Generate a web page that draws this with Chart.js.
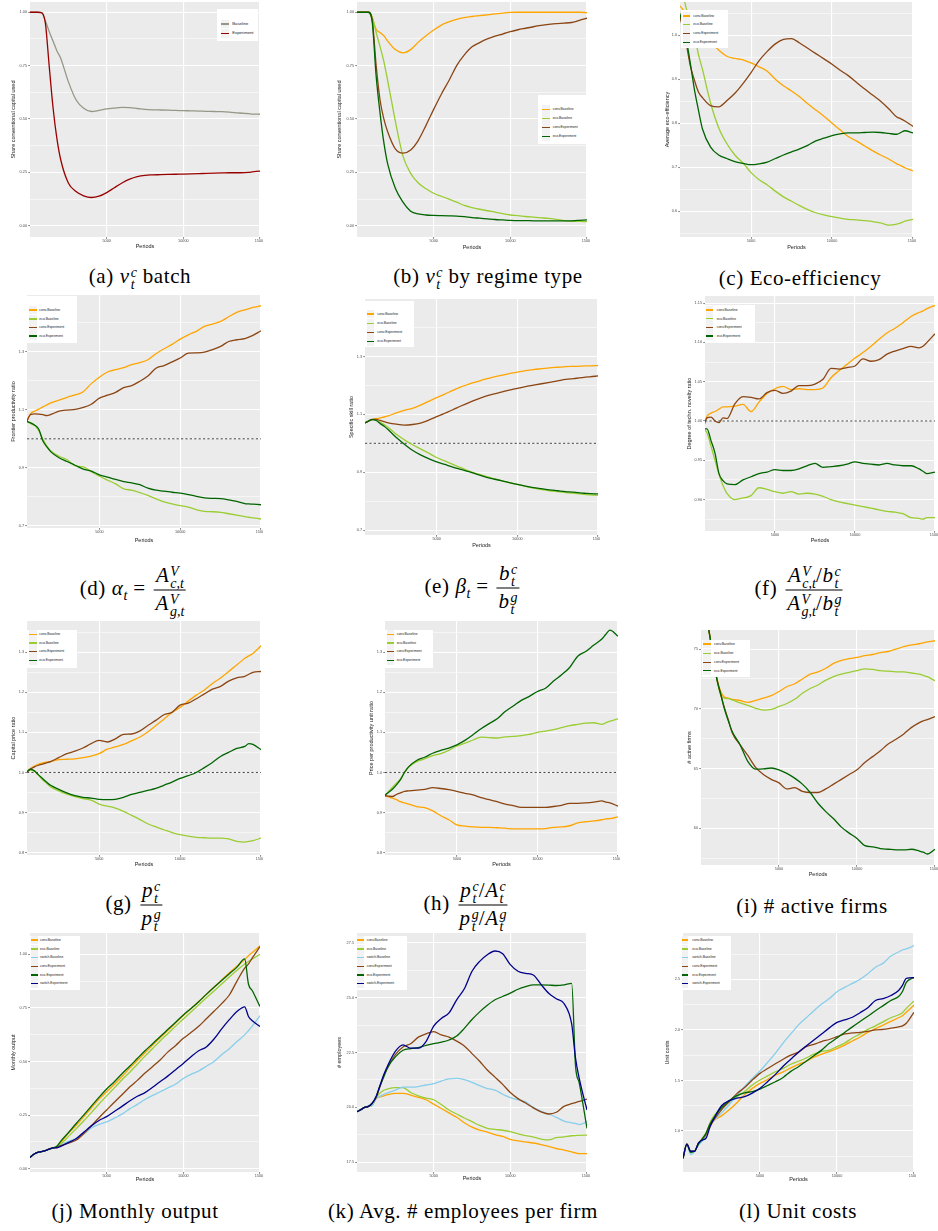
<!DOCTYPE html>
<html>
<head>
<meta charset="utf-8">
<script src="https://cdn.jsdelivr.net/npm/chart.js@4.4.0/dist/chart.umd.min.js"></script>
<style>
html,body{margin:0;padding:0;background:#fff;}
body{width:938px;height:1231px;position:relative;overflow:hidden;}
.wrap{position:absolute;overflow:hidden;}
.wrap canvas{position:absolute;left:0;top:0;}
.leg{position:absolute;background:#fff;}
.key{position:absolute;background:#f2f2f2;height:8.5px;}
.key i{position:absolute;left:0;right:0;top:3.6px;height:1.3px;}
.lt{position:absolute;font-family:"Liberation Sans",Arial,sans-serif;color:#1a1a1a;white-space:nowrap;line-height:8px;}
.cap{position:absolute;transform:translate(-50%,-50%);font-family:"Liberation Serif","DejaVu Serif",serif;font-size:21px;letter-spacing:.6px;white-space:nowrap;color:#000;line-height:1;}
.cap i{font-style:italic;}
.ss{display:inline-flex;flex-direction:column;font-size:14px;line-height:12px;vertical-align:6px;font-style:italic;margin-left:1px;letter-spacing:0;}
.sb{font-size:14px;vertical-align:-5px;font-style:italic;line-height:0;letter-spacing:0;}
.fr{display:inline-flex;flex-direction:column;align-items:center;vertical-align:middle;margin:0 2px;}
.fr>span{display:block;padding:0 2px;line-height:24px;white-space:nowrap;}
.fr>.n{border-bottom:1px solid #000;}
</style>
</head>
<body>

<div class="cap" style="left:140px;top:278px">(a) <i>ν</i><span class="ss"><span>c</span><span>t</span></span> batch</div>
<div class="cap" style="left:488px;top:278px">(b) <i>ν</i><span class="ss"><span>c</span><span>t</span></span> by regime type</div>
<div class="cap" style="left:800px;top:278px">(c) Eco-efficiency</div>

<div class="cap" style="left:134px;top:590px">(d) <i>α</i><span class="sb">t</span> = <span class="fr"><span class="n"><i>A</i><span class="ss"><span>V</span><span>c,t</span></span></span><span class="d"><i>A</i><span class="ss"><span>V</span><span>g,t</span></span></span></span></div>
<div class="cap" style="left:473px;top:588px">(e) <i>β</i><span class="sb">t</span> = <span class="fr"><span class="n"><i>b</i><span class="ss"><span>c</span><span>t</span></span></span><span class="d"><i>b</i><span class="ss"><span>g</span><span>t</span></span></span></span></div>
<div class="cap" style="left:800px;top:590px">(f) <span class="fr"><span class="n"><i>A</i><span class="ss"><span>V</span><span>c,t</span></span>/<i>b</i><span class="ss"><span>c</span><span>t</span></span></span><span class="d"><i>A</i><span class="ss"><span>V</span><span>g,t</span></span>/<i>b</i><span class="ss"><span>g</span><span>t</span></span></span></span></div>

<div class="cap" style="left:135px;top:905px">(g) <span class="fr"><span class="n"><i>p</i><span class="ss"><span>c</span><span>t</span></span></span><span class="d"><i>p</i><span class="ss"><span>g</span><span>t</span></span></span></span></div>
<div class="cap" style="left:467px;top:905px">(h) <span class="fr"><span class="n"><i>p</i><span class="ss"><span>c</span><span>t</span></span>/<i>A</i><span class="ss"><span>c</span><span>t</span></span></span><span class="d"><i>p</i><span class="ss"><span>g</span><span>t</span></span>/<i>A</i><span class="ss"><span>g</span><span>t</span></span></span></span></div>
<div class="cap" style="left:812px;top:906px">(i) # active firms</div>

<div class="cap" style="left:135px;top:1211px">(j) Monthly output</div>
<div class="cap" style="left:463px;top:1211px">(k) Avg. # employees per firm</div>
<div class="cap" style="left:798px;top:1211px">(l) Unit costs</div>

<script>
// Simulation periods at which every series is sampled
const PERIODS = [0,250,500,750,1000,1250,1500,1750,2000,
  2500,3000,3500,4000,4500,5000,5500,6000,6500,7000,
  7500,8000,8500,9000,9500,10000,10500,11000,11500,12000,
  12500,13000,13500,14000,14250,14500,15000];
const X_TICKS = [5000, 10000, 15000];

const LABELS4 = ['conv.Baseline','eco.Baseline','conv.Experiment','eco.Experiment'];
const LABELS6 = ['conv.Baseline','eco.Baseline','switch.Baseline','conv.Experiment','eco.Experiment','switch.Experiment'];
const ORANGE = '#FFA500', YGREEN = '#9ACD32', SKY = '#87CEEB', BROWN = '#8B4513', DGREEN = '#006400', NAVY = '#00008B';
const COLORS4 = [ORANGE, YGREEN, BROWN, DGREEN];
const COLORS6 = [ORANGE, YGREEN, SKY, BROWN, DGREEN, NAVY];

// (a) share of conventional capital, batch
const batchBaseline = [1,1,1,0.998,0.96,0.91,0.865,0.82,0.785,
  0.675,0.59,0.55,0.535,0.54,0.547,0.551,0.554,0.553,0.549,
  0.545,0.543,0.542,0.541,0.540,0.539,0.538,0.537,0.536,0.535,
  0.534,0.532,0.529,0.526,0.525,0.523,0.522];
const batchExperiment = [1,1,1,0.998,0.95,0.75,0.555,0.41,0.31,
  0.20,0.16,0.14,0.132,0.138,0.155,0.178,0.20,0.218,0.23,
  0.236,0.238,0.239,0.240,0.241,0.242,0.243,0.244,0.245,0.246,
  0.247,0.248,0.248,0.249,0.25,0.252,0.256];

// (b) share of conventional capital by regime type
const regConvBase = [1,1,1,1,0.97,0.92,0.905,0.89,0.865,
  0.825,0.81,0.825,0.86,0.89,0.917,0.94,0.955,0.967,0.975,
  0.98,0.984,0.988,0.992,0.996,0.999,1,1,1,1,
  1,1,1,1,1,1,0.998];
const regEcoBase = [1,1,1,1,0.975,0.905,0.84,0.77,0.68,
  0.49,0.326,0.245,0.20,0.173,0.152,0.138,0.124,0.11,0.095,
  0.085,0.077,0.07,0.064,0.057,0.05,0.047,0.043,0.04,0.037,
  0.034,0.03,0.024,0.021,0.02,0.02,0.019];
const regConvExp = [1,1,1,1,0.96,0.75,0.59,0.50,0.44,
  0.36,0.34,0.355,0.40,0.47,0.545,0.616,0.68,0.75,0.80,
  0.838,0.858,0.875,0.888,0.898,0.909,0.918,0.925,0.932,0.938,
  0.943,0.947,0.949,0.952,0.956,0.962,0.972];
const regEcoExp = [1,1,1,1,0.95,0.70,0.53,0.39,0.29,
  0.175,0.11,0.068,0.055,0.05,0.048,0.047,0.046,0.045,0.042,
  0.038,0.035,0.032,0.029,0.027,0.025,0.024,0.024,0.023,0.023,
  0.023,0.023,0.023,0.023,0.024,0.025,0.027];

// (c) average eco-efficiency
const effConvBase = [null,null,1.07,1.06,1.045,1.035,1.025,1.015,1.005,
  0.985,0.966,0.952,0.947,0.944,0.937,0.928,0.918,0.9,0.885,
  0.873,0.86,0.844,0.83,0.816,0.8,0.785,0.77,0.76,0.749,
  0.738,0.728,0.719,0.708,0.704,0.699,0.692];
const effEcoBase = [null,null,1.12,1.10,1.06,1.03,1.0,0.956,0.922,
  0.846,0.79,0.754,0.728,0.71,0.688,0.672,0.66,0.646,0.633,
  0.623,0.613,0.604,0.597,0.592,0.588,0.585,0.582,0.581,0.579,
  0.577,0.574,0.569,0.571,0.574,0.578,0.582];
const effConvExp = [null,null,1.06,1.02,0.98,0.93,0.898,0.871,0.858,
  0.84,0.837,0.851,0.868,0.89,0.915,0.942,0.963,0.98,0.99,
  0.992,0.982,0.97,0.958,0.946,0.934,0.92,0.908,0.893,0.878,
  0.864,0.85,0.833,0.814,0.81,0.805,0.793];
const effEcoExp = [null,null,1.06,1.03,0.99,0.936,0.877,0.83,0.787,
  0.746,0.728,0.72,0.713,0.709,0.706,0.708,0.712,0.72,0.728,
  0.735,0.742,0.75,0.76,0.766,0.772,0.776,0.778,0.778,0.779,
  0.78,0.779,0.777,0.775,0.779,0.783,0.778];

// (d) frontier productivity ratio
const prodConvBase = [null,null,1.06,1.087,1.095,1.102,1.11,1.117,1.124,
  1.133,1.143,1.151,1.162,1.19,1.212,1.23,1.238,1.245,1.255,
  1.262,1.272,1.293,1.31,1.325,1.343,1.358,1.37,1.387,1.395,
  1.404,1.42,1.435,1.444,1.448,1.452,1.458];
const prodEcoBase = [null,null,1.06,1.052,1.046,1.028,0.999,0.975,0.958,
  0.94,0.928,0.907,0.903,0.887,0.871,0.858,0.845,0.828,0.823,
  0.815,0.805,0.793,0.783,0.776,0.77,0.765,0.756,0.75,0.749,
  0.747,0.742,0.737,0.732,0.73,0.728,0.724];
const prodConvExp = [null,null,1.06,1.084,1.086,1.085,1.083,1.08,1.084,
  1.095,1.099,1.101,1.108,1.119,1.14,1.15,1.16,1.176,1.183,
  1.198,1.216,1.243,1.252,1.265,1.278,1.295,1.296,1.298,1.307,
  1.318,1.335,1.341,1.345,1.35,1.356,1.372];
const prodEcoExp = [null,null,1.06,1.055,1.047,1.033,0.993,0.972,0.955,
  0.935,0.922,0.909,0.896,0.889,0.876,0.868,0.86,0.853,0.848,
  0.842,0.83,0.823,0.82,0.816,0.813,0.808,0.802,0.797,0.795,
  0.794,0.79,0.785,0.777,0.776,0.775,0.773];

// (e) specific skill ratio
const skillConvBase = [null,null,1.069,1.076,1.082,1.085,1.088,1.091,1.095,
  1.105,1.114,1.121,1.132,1.145,1.158,1.17,1.183,1.195,1.205,
  1.213,1.222,1.229,1.235,1.241,1.246,1.251,1.255,1.258,1.261,
  1.263,1.265,1.266,1.267,1.268,1.268,1.269];
const skillEcoBase = [null,null,1.069,1.076,1.082,1.082,1.073,1.065,1.055,
  1.031,1.012,0.995,0.981,0.966,0.951,0.939,0.927,0.916,0.904,
  0.895,0.887,0.878,0.871,0.864,0.858,0.851,0.845,0.84,0.836,
  0.833,0.83,0.827,0.824,0.823,0.822,0.82];
const skillConvExp = [null,null,1.069,1.076,1.083,1.083,1.079,1.075,1.071,
  1.066,1.063,1.065,1.07,1.08,1.092,1.104,1.116,1.129,1.141,
  1.152,1.162,1.17,1.177,1.184,1.19,1.196,1.201,1.206,1.211,
  1.216,1.221,1.224,1.227,1.229,1.23,1.233];
const skillEcoExp = [null,null,1.069,1.076,1.082,1.079,1.068,1.059,1.047,
  1.02,0.997,0.976,0.96,0.947,0.936,0.927,0.918,0.91,0.902,
  0.893,0.884,0.877,0.871,0.864,0.858,0.852,0.847,0.843,0.839,
  0.836,0.833,0.831,0.828,0.827,0.826,0.825];

// (f) degree of technological novelty ratio
const novConvBase = [null,null,0.99,1.006,1.01,1.012,1.015,1.018,1.018,
  1.019,1.021,1.012,1.024,1.035,1.041,1.044,1.04,1.041,1.04,
  1.04,1.042,1.055,1.064,1.072,1.08,1.087,1.095,1.104,1.112,
  1.118,1.125,1.133,1.138,1.14,1.143,1.147];
const novEcoBase = [null,null,0.99,0.985,0.968,0.95,0.932,0.918,0.908,
  0.9,0.902,0.905,0.915,0.913,0.91,0.908,0.91,0.907,0.908,
  0.907,0.904,0.9,0.897,0.895,0.893,0.891,0.889,0.887,0.885,
  0.884,0.882,0.877,0.876,0.875,0.877,0.877];
const novConvExp = [null,null,0.99,1.004,1.005,1.0,0.998,1.004,1.003,
  1.022,1.031,1.03,1.028,1.036,1.039,1.035,1.038,1.045,1.045,
  1.047,1.053,1.067,1.066,1.068,1.07,1.079,1.076,1.078,1.085,
  1.089,1.092,1.095,1.093,1.095,1.1,1.111];
const novEcoExp = [null,null,0.99,0.99,0.975,0.959,0.933,0.924,0.92,
  0.919,0.925,0.929,0.933,0.935,0.938,0.937,0.937,0.939,0.943,
  0.946,0.941,0.942,0.943,0.945,0.948,0.946,0.945,0.944,0.946,
  0.944,0.943,0.943,0.939,0.936,0.933,0.935];

// (g) capital price ratio
const priceConvBase = [null,null,1.0,1.01,1.016,1.021,1.024,1.026,1.027,
  1.032,1.033,1.034,1.037,1.041,1.047,1.058,1.064,1.07,1.079,
  1.088,1.101,1.117,1.133,1.15,1.162,1.178,1.193,1.206,1.222,
  1.236,1.252,1.268,1.285,1.291,1.297,1.316];
const priceEcoBase = [null,null,1.0,1.006,1.003,0.993,0.982,0.973,0.964,
  0.954,0.946,0.94,0.935,0.931,0.921,0.916,0.911,0.903,0.893,
  0.883,0.872,0.864,0.857,0.85,0.845,0.841,0.838,0.837,0.836,
  0.836,0.834,0.828,0.826,0.828,0.83,0.836];
const priceConvExp = [null,null,1.0,1.008,1.014,1.018,1.021,1.024,1.027,
  1.037,1.047,1.053,1.061,1.072,1.08,1.076,1.084,1.095,1.096,
  1.103,1.117,1.13,1.144,1.15,1.168,1.173,1.184,1.196,1.208,
  1.215,1.228,1.236,1.24,1.245,1.25,1.252];
const priceEcoExp = [null,null,1.0,1.008,1.004,0.994,0.985,0.976,0.968,
  0.958,0.949,0.942,0.938,0.936,0.933,0.932,0.933,0.938,0.945,
  0.95,0.955,0.96,0.968,0.976,0.985,0.992,1.0,1.012,1.025,
  1.04,1.05,1.06,1.065,1.072,1.07,1.057];

// (h) price per productivity unit ratio
const pppConvBase = [null,null,0.942,0.939,0.936,0.932,0.927,0.924,0.921,
  0.915,0.912,0.904,0.892,0.882,0.869,0.866,0.864,0.863,0.863,
  0.862,0.861,0.859,0.859,0.859,0.859,0.86,0.863,0.864,0.867,
  0.874,0.877,0.879,0.882,0.884,0.885,0.889];
const pppEcoBase = [null,null,0.942,0.952,0.963,0.973,0.984,1.0,1.013,
  1.027,1.034,1.042,1.047,1.055,1.066,1.073,1.081,1.088,1.087,
  1.086,1.089,1.09,1.092,1.095,1.1,1.103,1.107,1.112,1.117,
  1.12,1.123,1.124,1.12,1.124,1.128,1.134];
const pppConvExp = [null,null,0.942,0.941,0.94,0.945,0.949,0.953,0.954,
  0.956,0.958,0.962,0.96,0.957,0.953,0.948,0.944,0.937,0.932,
  0.927,0.921,0.917,0.913,0.913,0.913,0.913,0.915,0.918,0.923,
  0.923,0.924,0.926,0.929,0.926,0.924,0.916];
const pppEcoExp = [null,null,0.942,0.95,0.958,0.969,0.982,1.0,1.014,
  1.03,1.038,1.048,1.055,1.061,1.069,1.08,1.094,1.109,1.122,
  1.134,1.152,1.166,1.18,1.19,1.202,1.21,1.228,1.244,1.262,
  1.29,1.302,1.318,1.333,1.345,1.355,1.34];

// (i) number of active firms
const firmsConvBase = [79.5,78.3,76.6,74.6,72.7,71.5,71.0,70.9,70.8,
  70.7,70.55,70.7,70.9,71.1,71.45,71.85,72.1,72.5,72.9,
  73.1,73.4,73.8,74.05,74.2,74.3,74.45,74.55,74.7,74.8,
  75.0,75.2,75.35,75.45,75.52,75.6,75.7];
const firmsEcoBase = [79.5,78.3,76.6,74.6,72.6,71.2,70.9,70.85,70.75,
  70.5,70.3,70.05,69.9,69.95,70.2,70.45,70.8,71.3,71.7,
  72.0,72.4,72.7,72.9,73.05,73.2,73.35,73.3,73.2,73.15,
  73.1,73.1,73.0,72.9,72.8,72.7,72.35];
const firmsConvExp = [79.5,78.3,76.6,74.6,72.6,71.3,70.1,69.1,68.0,
  67.0,66.1,65.1,64.5,64.1,63.8,63.3,63.4,63.1,63.0,
  63.0,63.3,63.7,64.1,64.5,64.9,65.5,66.0,66.5,67.05,
  67.45,67.9,68.45,68.85,69.0,69.1,69.35];
const firmsEcoExp = [79.5,78.3,76.6,74.6,72.6,71.3,70.0,69.0,68.1,
  67.0,65.6,64.95,64.97,65.05,64.9,64.6,64.2,63.7,63.0,
  62.1,61.4,60.8,60.1,59.6,59.15,58.55,58.45,58.3,58.25,
  58.2,58.2,58.25,58.1,58.0,57.85,58.25];

// (j) monthly output
const outConvBase = [0.053,0.068,0.077,0.08,0.085,0.092,0.097,0.104,0.122,
  0.165,0.202,0.242,0.283,0.325,0.359,0.394,0.43,0.469,0.505,
  0.541,0.577,0.612,0.645,0.68,0.714,0.747,0.779,0.813,0.846,
  0.88,0.914,0.945,0.975,0.993,1.008,1.04];
const outEcoBase = [0.053,0.068,0.077,0.08,0.085,0.092,0.097,0.103,0.115,
  0.15,0.186,0.223,0.262,0.302,0.34,0.377,0.415,0.45,0.487,
  0.525,0.561,0.597,0.631,0.665,0.698,0.731,0.764,0.797,0.829,
  0.861,0.894,0.925,0.955,0.967,0.978,1.0];
const outSwitchBase = [0.053,0.068,0.077,0.08,0.085,0.092,0.097,0.102,0.11,
  0.128,0.141,0.162,0.19,0.207,0.219,0.236,0.255,0.279,0.3,
  0.323,0.342,0.359,0.377,0.395,0.421,0.44,0.456,0.478,0.5,
  0.531,0.56,0.593,0.624,0.644,0.665,0.714];
const outConvExp = [0.053,0.068,0.077,0.08,0.085,0.092,0.097,0.1,0.108,
  0.12,0.133,0.163,0.2,0.238,0.274,0.31,0.345,0.381,0.412,
  0.446,0.477,0.508,0.545,0.575,0.608,0.635,0.664,0.699,0.734,
  0.77,0.81,0.875,0.935,0.955,0.983,1.036];
const outEcoExp = [0.053,0.068,0.077,0.08,0.085,0.092,0.097,0.105,0.128,
  0.168,0.21,0.25,0.292,0.333,0.372,0.406,0.443,0.478,0.514,
  0.55,0.583,0.617,0.65,0.683,0.717,0.747,0.779,0.813,0.846,
  0.878,0.909,0.94,0.978,0.86,0.83,0.756];
const outSwitchExp = [0.053,0.068,0.077,0.08,0.085,0.092,0.097,0.098,0.104,
  0.122,0.14,0.17,0.2,0.225,0.243,0.267,0.291,0.316,0.338,
  0.355,0.38,0.407,0.433,0.462,0.491,0.522,0.55,0.568,0.605,
  0.652,0.695,0.733,0.755,0.71,0.69,0.663];

// (k) average number of employees per firm
const empConvBase = [19.8,19.9,20.0,20.05,20.1,20.4,20.48,20.53,20.58,
  20.64,20.64,20.56,20.46,20.35,20.15,19.95,19.75,19.55,19.3,
  19.1,18.97,18.88,18.76,18.68,18.55,18.48,18.43,18.38,18.31,
  18.23,18.13,18.06,17.98,17.93,17.9,17.9];
const empEcoBase = [19.8,19.9,20.0,20.05,20.1,20.45,20.65,20.78,20.84,
  20.9,20.9,20.68,20.53,20.42,20.35,20.13,19.88,19.7,19.52,
  19.35,19.18,19.05,19.0,18.96,18.9,18.8,18.72,18.65,18.56,
  18.52,18.62,18.66,18.71,18.72,18.73,18.74];
const empSwitchBase = [19.8,19.9,20.0,20.05,20.1,20.4,20.5,20.6,20.66,
  20.79,20.92,20.92,20.95,21.02,21.08,21.2,21.3,21.32,21.26,
  21.14,20.99,20.86,20.79,20.6,20.45,20.35,20.25,20.0,19.83,
  19.7,19.55,19.38,19.3,19.27,19.22,19.35];
const empConvExp = [19.8,19.9,20.0,20.05,20.2,20.45,20.95,21.45,21.8,
  22.4,22.75,22.9,23.2,23.35,23.45,23.3,23.2,23.02,22.8,
  22.45,22.1,21.7,21.38,21.05,20.68,20.4,20.2,19.98,19.8,
  19.7,19.78,20.05,20.17,20.22,20.27,20.38];
const empEcoExp = [19.8,19.9,20.0,20.05,20.2,20.5,20.98,21.4,21.82,
  22.3,22.6,22.68,22.72,22.82,22.9,22.97,23.07,23.25,23.6,
  24.0,24.35,24.65,24.9,25.05,25.2,25.38,25.5,25.58,25.58,
  25.57,25.55,25.58,25.65,21.9,21.1,19.04];
const empSwitchExp = [19.8,19.9,20.0,20.05,20.2,20.5,21.0,21.5,21.9,
  22.55,22.85,22.7,22.7,23.0,23.7,24.05,24.3,24.9,25.4,
  26.2,26.65,26.95,27.12,27.0,26.5,26.2,26.1,26.03,25.6,
  25.2,24.95,24.73,23.8,22.25,21.3,19.88];

// (l) unit costs
const costConvBase = [0.73,0.87,0.79,0.8,0.875,0.92,0.96,1.04,1.1,
  1.15,1.21,1.28,1.36,1.422,1.471,1.51,1.553,1.585,1.625,
  1.66,1.69,1.73,1.76,1.785,1.815,1.85,1.89,1.93,1.975,
  2.012,2.048,2.085,2.12,2.14,2.174,2.246];
const costEcoBase = [0.73,0.87,0.79,0.8,0.875,0.93,0.98,1.08,1.15,
  1.23,1.29,1.34,1.39,1.455,1.504,1.545,1.586,1.62,1.66,
  1.69,1.722,1.76,1.787,1.801,1.835,1.87,1.92,1.96,2.005,
  2.04,2.08,2.12,2.15,2.17,2.213,2.286];
const costSwitchBase = [0.73,0.87,0.77,0.8,0.86,0.9,0.96,1.06,1.105,
  1.18,1.26,1.35,1.44,1.521,1.593,1.68,1.77,1.87,1.96,
  2.05,2.12,2.19,2.255,2.31,2.378,2.42,2.46,2.5,2.555,
  2.62,2.66,2.73,2.77,2.79,2.8,2.833];
const costConvExp = [0.73,0.87,0.8,0.8,0.88,0.92,0.97,1.06,1.11,
  1.21,1.29,1.37,1.43,1.504,1.57,1.618,1.665,1.71,1.75,
  1.78,1.835,1.856,1.885,1.905,1.933,1.96,1.97,1.975,1.985,
  2.0,2.005,2.017,2.03,2.04,2.065,2.174];
const costEcoExp = [0.73,0.87,0.79,0.8,0.87,0.92,0.98,1.07,1.13,
  1.23,1.3,1.35,1.378,1.389,1.415,1.45,1.487,1.53,1.59,
  1.636,1.69,1.745,1.8,1.867,1.92,1.975,2.03,2.083,2.135,
  2.19,2.24,2.29,2.33,2.38,2.47,2.517];
const costSwitchExp = [0.73,0.87,0.8,0.8,0.88,0.91,0.93,1.04,1.12,
  1.25,1.3,1.325,1.34,1.375,1.422,1.49,1.56,1.64,1.71,
  1.78,1.84,1.9,1.96,2.02,2.075,2.1,2.125,2.17,2.22,
  2.29,2.31,2.34,2.39,2.44,2.51,2.517];

function four(arrs) { return arrs.map((v, i) => ({ name: LABELS4[i], color: COLORS4[i], values: v })); }
function six(arrs) { return arrs.map((v, i) => ({ name: LABELS6[i], color: COLORS6[i], values: v })); }

const Y_QUARTERS = { major: [0, 0.25, 0.5, 0.75, 1], minor: [0.125, 0.375, 0.625, 0.875] };
const Y_PAIR = { major: [0.7, 0.9, 1.1, 1.3], minor: [0.8, 1.0, 1.2, 1.4] };
const Y_TENTHS = { major: [0.8, 0.9, 1.0, 1.1, 1.2, 1.3], minor: [0.85, 0.95, 1.05, 1.15, 1.25, 1.35] };
const LEG4_ROWS = (y0, step) => [0, 1, 2, 3].map(k => y0 + k * step);
const LEG6_ROWS = [940, 949, 957.3, 966.3, 975, 983.3];

const PANELS = [
  { plot: [30, 2, 260, 237], xMin: 0, yMin: -0.053, yMax: 1.048, yMajor: Y_QUARTERS.major, yMinor: Y_QUARTERS.minor, dec: 2,
    yTitle: 'Share conventional capital used', yTitleX: 14, xTitleY: 247, clipR: 263,
    series: [{ name: 'Baseline', color: '#979787', values: batchBaseline }, { name: 'Experiment', color: '#990000', values: batchExperiment }],
    legend: { box: [217, 9, 41, 32], ys: [24, 33.3], keyX: 221, keyW: 8, textX: 232.3, fs: 4.2 } },
  { plot: [357, 2, 587, 237], xMin: 0, yMin: -0.053, yMax: 1.048, yMajor: Y_QUARTERS.major, yMinor: Y_QUARTERS.minor, dec: 2,
    yTitle: 'Share conventional capital used', yTitleX: 340, xTitleY: 247.3, clipR: 590,
    series: four([regConvBase, regEcoBase, regConvExp, regEcoExp]),
    legend: { box: [538, 95, 50, 49], ys: LEG4_ROWS(109.3, 9), keyX: 541.7, keyW: 8.3, textX: 552.7, fs: 3.4 } },
  { plot: [680, 2, 913, 237], xMin: 612, yMin: 0.542, yMax: 1.075, yMajor: [0.6, 0.7, 0.8, 0.9, 1.0], yMinor: [0.55, 0.65, 0.75, 0.85, 0.95, 1.05], dec: 1,
    yTitle: 'Average eco-efficiency', yTitleX: 667.7, xTitleY: 247.3, clipR: 916,
    series: four([effConvBase, effEcoBase, effConvExp, effEcoExp]),
    legend: { box: [681, 10, 47, 38], ys: [16, 24.3, 33.3, 42.3], keyX: 683.3, keyW: 7, textX: 693.3, fs: 3.4 } },
  { plot: [27, 295, 261, 528], xMin: 520, yMin: 0.693, yMax: 1.495, yMajor: Y_PAIR.major, yMinor: Y_PAIR.minor, dec: 1, ref: 1,
    yTitle: 'Frontier productivity ratio', yTitleX: 14, xTitleY: 540.7, clipR: 263,
    series: four([prodConvBase, prodEcoBase, prodConvExp, prodEcoExp]),
    legend: { box: [27, 296, 50, 47], ys: [310, 319, 327.3, 336], keyX: 29.3, keyW: 7.4, textX: 39.3, fs: 3.4 } },
  { plot: [365, 299, 598, 535], xMin: 558, yMin: 0.683, yMax: 1.499, yMajor: Y_PAIR.major, yMinor: Y_PAIR.minor, dec: 1, ref: 1,
    yTitle: 'Specific skill ratio', yTitleX: 351.7, xTitleY: 546, clipR: 600,
    series: four([skillConvBase, skillEcoBase, skillConvExp, skillEcoExp]),
    legend: { box: [364, 300.7, 50, 46.3], ys: [314, 323.3, 332.3, 341.3], keyX: 366.7, keyW: 7.6, textX: 377.3, fs: 3.4 } },
  { plot: [705, 296, 935, 531], xMin: 625, yMin: 0.860, yMax: 1.159, yMajor: [0.9, 0.95, 1.0, 1.05, 1.1, 1.15], yMinor: [0.875, 0.925, 0.975, 1.025, 1.075, 1.125], dec: 2, ref: 1,
    yTitle: 'Degree of techn. novelty ratio', yTitleX: 689.3, xTitleY: 540.7, clipR: 938,
    series: four([novConvBase, novEcoBase, novConvExp, novEcoExp]),
    legend: { box: [705, 305, 50, 37], ys: [310, 318.7, 327.3, 336], keyX: 706, keyW: 7.3, textX: 716.7, fs: 3.4 } },
  { plot: [27, 621, 261, 855], xMin: 540, yMin: 0.794, yMax: 1.378, yMajor: Y_TENTHS.major, yMinor: Y_TENTHS.minor, dec: 1, ref: 1,
    yTitle: 'Capital price ratio', yTitleX: 14, xTitleY: 865, clipR: 263,
    series: four([priceConvBase, priceEcoBase, priceConvExp, priceEcoExp]),
    legend: { box: [27, 630, 50, 38], ys: [634.3, 643, 651.3, 660.3], keyX: 29.3, keyW: 7.4, textX: 39.3, fs: 3.4 } },
  { plot: [385, 621, 618, 855], xMin: 540, yMin: 0.794, yMax: 1.378, yMajor: Y_TENTHS.major, yMinor: Y_TENTHS.minor, dec: 1, ref: 1,
    yTitle: 'Price per productivity unit ratio', yTitleX: 371.7, xTitleY: 865, clipR: 620,
    series: four([pppConvBase, pppEcoBase, pppConvExp, pppEcoExp]),
    legend: { box: [385, 630, 48, 38], ys: [634.3, 643, 651.3, 660.3], keyX: 386.7, keyW: 7.3, textX: 396.7, fs: 3.4 } },
  { plot: [701, 630, 935, 865], xMin: 0, yMin: 56.93, yMax: 76.6, yMajor: [60, 65, 70, 75], yMinor: [57.5, 62.5, 67.5, 72.5], dec: 0,
    yTitle: '# active firms', yTitleX: 689.3, xTitleY: 875, clipR: 938,
    series: four([firmsConvBase, firmsEcoBase, firmsConvExp, firmsEcoExp]),
    legend: { box: [702, 640, 48, 37], ys: [644, 653.3, 662.3, 670.7], keyX: 703.3, keyW: 7.4, textX: 714, fs: 3.4 } },
  { plot: [30, 933, 260, 1172], xMin: 0, yMin: -0.015, yMax: 1.099, yMajor: Y_QUARTERS.major, yMinor: Y_QUARTERS.minor, dec: 2,
    yTitle: 'Monthly output', yTitleX: 14, xTitleY: 1180, clipR: 263,
    series: six([outConvBase, outEcoBase, outSwitchBase, outConvExp, outEcoExp, outSwitchExp]),
    legend: { box: [30, 936, 50, 54], ys: LEG6_ROWS, keyX: 30.7, keyW: 7, textX: 40, fs: 3.4 } },
  { plot: [357, 933, 587, 1172], xMin: 0, yMin: 17.06, yMax: 27.94, yMajor: [17.5, 20, 22.5, 25, 27.5], yMinor: [18.75, 21.25, 23.75, 26.25], dec: 1,
    yTitle: '# employees', yTitleX: 340, xTitleY: 1179, clipR: 590,
    series: six([empConvBase, empEcoBase, empSwitchBase, empConvExp, empEcoExp, empSwitchExp]),
    legend: { box: [355, 936, 52, 54], ys: LEG6_ROWS, keyX: 356.7, keyW: 7.3, textX: 366.7, fs: 3.4 } },
  { plot: [683, 933, 914, 1172], xMin: 0, yMin: 0.595, yMax: 2.958, yMajor: [1, 1.5, 2, 2.5], yMinor: [0.75, 1.25, 1.75, 2.25, 2.75], dec: 1,
    yTitle: 'Unit costs', yTitleX: 667.7, xTitleY: 1180, clipR: 916,
    series: six([costConvBase, costEcoBase, costSwitchBase, costConvExp, costEcoExp, costSwitchExp]),
    legend: { box: [680, 936, 51, 54], ys: LEG6_ROWS, keyX: 681.7, keyW: 6.6, textX: 692.3, fs: 3.4 } }
];

const FONT = '"Liberation Sans", Arial, Helvetica, sans-serif';
const TITLE_FS = 5.5, TITLE_LH = TITLE_FS * 1.2, TICK_FS = 3.8;
const LINE_W = 1.3;

// grey panel background behind the grid
const panelBg = {
  id: 'panelBg',
  beforeDraw(chart) {
    const { ctx, chartArea: a } = chart;
    ctx.save();
    ctx.fillStyle = '#EBEBEB';
    ctx.fillRect(a.left, a.top, a.right - a.left, a.bottom - a.top);
    ctx.restore();
  }
};

// dashed reference line at a ratio of one
const refLine = {
  id: 'refLine',
  beforeDatasetsDraw(chart, args, opts) {
    if (opts.value == null) return;
    const { ctx, chartArea: a, scales } = chart;
    const y = scales.y.getPixelForValue(opts.value);
    ctx.save();
    ctx.strokeStyle = '#333333';
    ctx.lineWidth = 0.9;
    ctx.setLineDash([2.2, 2.2]);
    ctx.beginPath();
    ctx.moveTo(a.left, y);
    ctx.lineTo(a.right, y);
    ctx.stroke();
    ctx.restore();
  }
};

function addLegend(lg, series) {
  const box = document.createElement('div');
  box.className = 'leg';
  Object.assign(box.style, { left: lg.box[0] + 'px', top: lg.box[1] + 'px', width: lg.box[2] + 'px', height: lg.box[3] + 'px' });
  document.body.appendChild(box);
  series.forEach((s, i) => {
    const cy = lg.ys[i];
    const key = document.createElement('div');
    key.className = 'key';
    Object.assign(key.style, { left: lg.keyX + 'px', top: (cy - 4.25) + 'px', width: lg.keyW + 'px' });
    const ln = document.createElement('i');
    ln.style.background = s.color;
    key.appendChild(ln);
    document.body.appendChild(key);
    const t = document.createElement('div');
    t.className = 'lt';
    t.textContent = s.name;
    Object.assign(t.style, { left: lg.textX + 'px', top: (cy - 4) + 'px', fontSize: lg.fs + 'px' });
    document.body.appendChild(t);
  });
}

function makePanel(p) {
  const [pl, pt, pr, pb] = p.plot;
  const cl = Math.floor(p.yTitleX - TITLE_LH / 2);
  const ct = Math.floor(pt - 6);
  const cr = Math.ceil(pr + 12);
  const cb = Math.round(p.xTitleY + TITLE_LH / 2);
  const W = cr - cl, H = cb - ct;
  const yW = pl - cl, xH = cb - pb;

  const wrap = document.createElement('div');
  wrap.className = 'wrap';
  Object.assign(wrap.style, { left: cl + 'px', top: ct + 'px', width: (p.clipR - cl) + 'px', height: H + 'px' });
  const cv = document.createElement('canvas');
  cv.width = W; cv.height = H;
  cv.style.width = W + 'px'; cv.style.height = H + 'px';
  wrap.appendChild(cv);
  document.body.appendChild(wrap);

  const n = p.series.length;
  new Chart(cv, {
    type: 'line',
    data: {
      datasets: p.series.map((s, i) => ({
        label: s.name,
        data: PERIODS.map((x, k) => ({ x, y: s.values[k] })),
        borderColor: s.color,
        borderWidth: LINE_W,
        pointRadius: 0,
        fill: false,
        cubicInterpolationMode: 'monotone',
        order: n - i
      }))
    },
    options: {
      responsive: false,
      devicePixelRatio: 1,
      animation: false,
      events: [],
      layout: { padding: { left: 0, top: pt - ct, right: cr - pr, bottom: 0 } },
      plugins: { legend: { display: false }, tooltip: { enabled: false }, refLine: { value: p.ref } },
      scales: {
        x: {
          type: 'linear', min: p.xMin, max: 15000, bounds: 'data',
          afterBuildTicks: s => { s.ticks = X_TICKS.map(v => ({ value: v })); },
          afterFit: s => { s.height = xH; },
          grid: { color: '#FFFFFF', lineWidth: 1.1, drawTicks: true, tickLength: 1.8, tickColor: '#333333', tickWidth: 0.6 },
          border: { display: false },
          ticks: { autoSkip: false, maxRotation: 0, padding: 0.3, color: '#4D4D4D', font: { family: FONT, size: TICK_FS, lineHeight: 1.1 }, callback: v => String(v) },
          title: { display: true, text: 'Periods', color: '#1A1A1A', font: { family: FONT, size: TITLE_FS, lineHeight: 1.2 }, padding: 0 }
        },
        y: {
          type: 'linear', min: p.yMin, max: p.yMax, bounds: 'data',
          afterBuildTicks: s => {
            s.ticks = p.yMajor.map(v => ({ value: v, minor: false }))
              .concat(p.yMinor.map(v => ({ value: v, minor: true })))
              .filter(t => t.value >= p.yMin && t.value <= p.yMax)
              .sort((a, b) => a.value - b.value);
          },
          afterFit: s => { s.width = yW; },
          grid: {
            color: '#FFFFFF',
            lineWidth: c => (c.tick && c.tick.minor ? 0.55 : 1.1),
            drawTicks: true, tickLength: 1.8,
            tickColor: c => (c.tick && c.tick.minor ? 'rgba(0,0,0,0)' : '#333333'),
            tickWidth: 0.6
          },
          border: { display: false },
          ticks: {
            autoSkip: false, padding: 1.2, color: '#4D4D4D', font: { family: FONT, size: TICK_FS },
            callback: (v, i, ticks) => (ticks[i].minor ? '' : Number(v).toFixed(p.dec))
          },
          title: { display: true, text: p.yTitle, color: '#1A1A1A', font: { family: FONT, size: TITLE_FS, lineHeight: 1.2 }, padding: 0 }
        }
      }
    },
    plugins: [panelBg, refLine]
  });
  addLegend(p.legend, p.series);
}

PANELS.forEach(makePanel);
</script>
</body>
</html>
